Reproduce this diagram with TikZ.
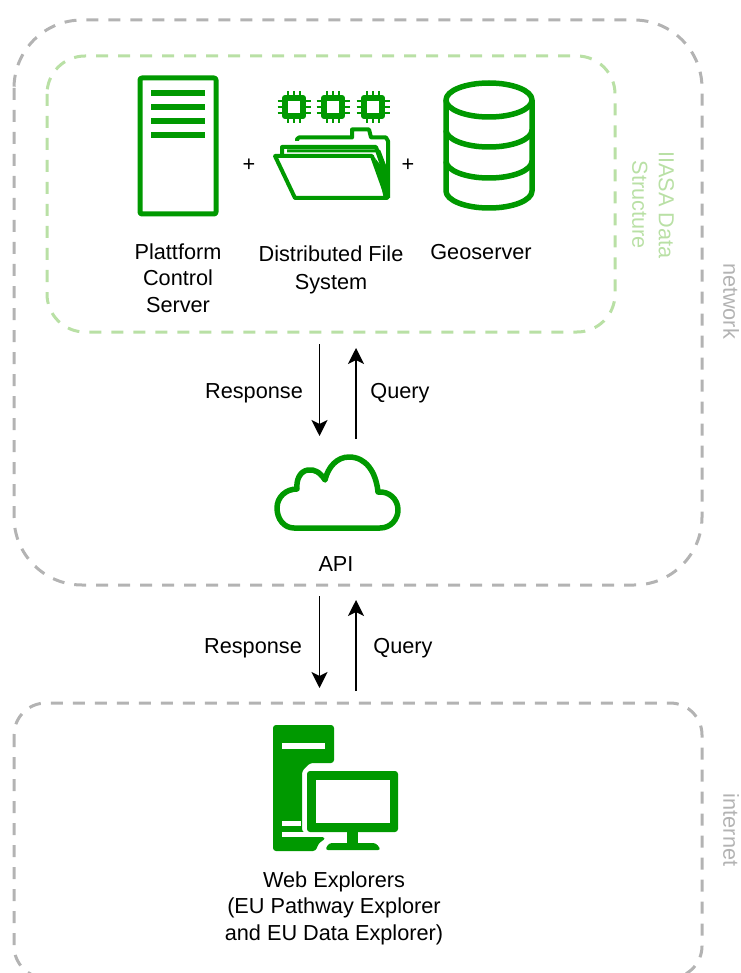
\documentclass[tikz,border=0pt]{standalone}
\usepackage{fontspec}
\setmainfont{Liberation Sans}
\usetikzlibrary{arrows.meta}
\definecolor{iconGreen}{HTML}{009900}
\definecolor{paleGreen}{HTML}{B9E0A5}
\definecolor{zoneGrey}{HTML}{B3B3B3}
\begin{document}
\begin{tikzpicture}[x=1pt,y=-1pt]
    \tikzstyle{all nodes}=[inner sep=0pt,align=center,font=\fontsize{21.7}{26.5}\selectfont]
    \tikzstyle{zone}=[line width=3pt,dash pattern=on 12pt off 10pt,rounded corners=68pt]
    \tikzstyle{icon}=[draw=iconGreen,line width=5pt,line join=round]
    \tikzstyle{flow}=[-{Stealth[length=16pt,width=16pt,inset=4pt]},line width=1.6pt]
    \tikzstyle{every node}=[all nodes]
    \useasboundingbox(0,0)rectangle(740,973);
    \clip(0,0)rectangle(740,973);
    % zones
    \draw[zone,zoneGrey](14,20)rectangle(702,585);
    \draw[zone,paleGreen,rounded corners=38pt](47,56)rectangle(615,332);
    \draw[zone,zoneGrey,rounded corners=32pt](14,703)rectangle(702,978);
    \draw node(lnetwork)[rotate=-90,text=zoneGrey]at(731,301){network}
          node(linternet)[rotate=-90,text=zoneGrey]at(731,830){internet}
          node(liiasa)[rotate=-90,text=paleGreen]at(653,205){IIASA Data\\Structure};
    % server
    \draw[icon,rounded corners=2pt](140,78)rectangle(216,214);
    \foreach \y in {93,107,121,135}
        \draw[iconGreen,line width=6pt](151,\y)--(205,\y);
    % chips
    \foreach \x in {294,333,373}{
        \foreach \d in {-6,0,6}{
            \draw[iconGreen,line width=2.6pt](\x+\d,91)--(\x+\d,123);
            \draw[iconGreen,line width=2.6pt](\x-16.5,107+\d)--(\x+16.5,107+\d);
        }
        \draw[icon,fill=white,line width=6pt](\x-9,98)rectangle(\x+9,116);
    }
    % folder
    \draw[icon,line width=4pt](297,141)--(297,139)--(299,137.5)--(352,137.5)--(352,129.5)--(369,129.5)--(371,137.5)--(386,137.5)--(388,141)--(388,198);
    \draw[icon,line width=4pt](282,155)--(282,147)--(376,147)--(387,180);
    \draw[icon,line width=3pt](287,151)--(379,151)--(387,172);
    \draw[icon,fill=white,line width=4pt](275,156)--(372,156)--(387,198)--(295,198)--cycle;
    \fill[iconGreen](375,158)--(389,176)--(389,199)--(384,199)--cycle;
    % database
    \draw[icon,line width=5.5pt](446,100)--(446,191)arc[start angle=180,end angle=0,x radius=43,y radius=17]--(532,100);
    \draw[icon,line width=5.5pt](489,100)ellipse[x radius=43,y radius=17];
    \draw[icon,line width=5.5pt](446,130)arc[start angle=180,end angle=0,x radius=43,y radius=17];
    \draw[icon,line width=5.5pt](446,161)arc[start angle=180,end angle=0,x radius=43,y radius=17];
    % cloud
    \draw[icon,line width=5.5pt](294,528)--(380,528)
        ..controls(391,528)and(398,519)..(398,510)
        ..controls(398,499)and(389,491)..(378,492)
        ..controls(376,472)and(366,457)..(349,457)
        ..controls(337,457)and(328,467)..(325,480)
        ..controls(320,472)and(314,469)..(308,470)
        ..controls(300,471)and(296,480)..(297,489)
        ..controls(286,489)and(277,497)..(277,508)
        ..controls(277,519)and(284,528)..(294,528)--cycle;
    % desktop
    \fill[iconGreen,rounded corners=3pt](273,851)--(273,725)--(334,725)--(334,763)--(310,763)--(302,771)--(302,832)--(326,838)--(318,844)--(316,851)--cycle;
    \fill[white](282,743)rectangle(325,749);
    \fill[white](282,821)rectangle(301,826);
    \fill[white](282,832)rectangle(328,837);
    \fill[iconGreen,rounded corners=3pt](307,771)rectangle(398,832);
    \fill[white](316,780)rectangle(390,823);
    \fill[iconGreen](347,830)rectangle(358,845);
    \fill[iconGreen,rounded corners=3pt](325,850)--(329,843)--(376,843)--(381,850)--cycle;
    % labels
    \draw node(lserver)at(178,278){Plattform\\Control\\Server}
          node(lfiles)at(331,270){Distributed File\\[1.5pt]System}
          node(lgeo)at(481,252){Geoserver}
          node(plusa)at(249,165){+}
          node(plusb)at(408,165){+}
          node(respa)at(254,393){Response}
          node(querya)at(400,393){Query}
          node(lapi)at(336,564){API}
          node(respb)at(253,648){Response}
          node(queryb)at(403,648){Query}
          node(lweb)at(334,908){Web Explorers\\(EU Pathway Explorer\\and EU Data Explorer)};
    % flows
    \coordinate(dataout)at(319.5,344);
    \coordinate(apiin)at(319.5,436);
    \coordinate(apiup)at(356,439);
    \coordinate(datain)at(356,348);
    \coordinate(apiout)at(319.5,596);
    \coordinate(webin)at(319.5,688);
    \coordinate(webup)at(356,691);
    \coordinate(apidown)at(356,600);
    \draw[flow](dataout)--(apiin);
    \draw[flow](apiup)--(datain);
    \draw[flow](apiout)--(webin);
    \draw[flow](webup)--(apidown);
\end{tikzpicture}
\end{document}
